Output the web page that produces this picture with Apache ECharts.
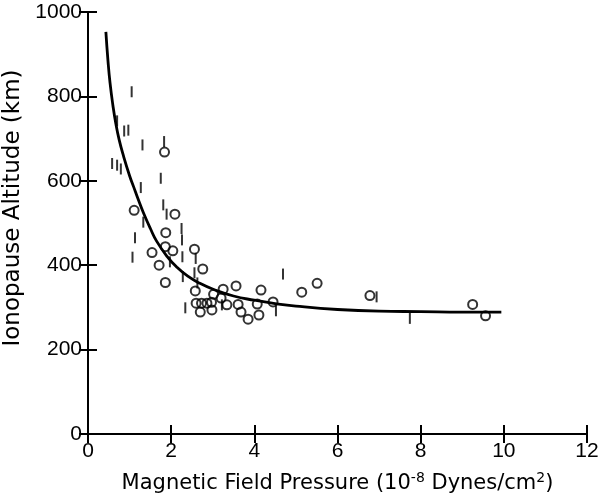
<!DOCTYPE html>
<html>
<head>
<meta charset="utf-8">
<script src="https://cdn.jsdelivr.net/npm/echarts@6/dist/echarts.min.js"></script>
<style>
html,body{margin:0;padding:0;background:#fff;}
#c{width:607px;height:499px;}
</style>
</head>
<body>
<div id="c"></div>
<script>
// Open-circle observations [pressure, altitude]
var circlePoints = [
  [1.84,668],[1.11,530],[2.09,521],[1.87,477],[1.54,430],[1.86,444],[2.04,434],
  [2.56,438],[1.71,400],[2.76,391],[1.86,359],[2.58,339],[3.02,331],[2.60,310],
  [2.73,310],[2.86,310],[2.97,312],[2.70,289],[2.98,294],[3.20,322],[3.25,343],
  [3.34,306],[3.56,351],[3.61,307],[3.68,289],[3.85,272],[4.07,308],[4.11,282],
  [4.16,341],[4.45,313],[5.14,336],[5.51,357],[6.78,328],[9.25,307],[9.56,280]
];
// Vertical-bar observations [pressure, altitude]
var barPoints = [
  [1.05,811],[0.70,742],[0.87,718],[0.97,720],[1.31,685],[1.83,693],[0.58,641],
  [0.70,637],[0.79,628],[1.75,606],[1.27,584],[1.81,543],[1.89,521],[1.33,502],
  [2.25,487],[2.26,460],[1.13,465],[2.27,420],[1.07,419],[2.59,416],[1.97,408],
  [2.28,373],[2.56,382],[2.63,358],[2.34,299],[3.22,306],[4.52,292],[4.69,379],
  [6.94,325],[7.74,274]
];
// Fitted curve
var curvePoints = [
  [0.43,953],[0.48,885],[0.53,832],[0.6,778],[0.67,735],[0.75,697],[0.85,660],
  [1.0,612],[1.1,585],[1.2,558],[1.33,525],[1.5,487],[1.65,457],[1.9,421],
  [2.13,396],[2.4,374],[2.69,357],[3.01,343],[3.5,327],[4.0,317],[4.5,309],
  [5.0,303],[6.0,295],[7.0,291],[8.0,290],[9.0,289],[9.94,289]
];
var xTicks = {min:0, max:12, interval:2};
var yTicks = {min:0, max:1000, interval:200};

var chart = echarts.init(document.getElementById('c'), null, {renderer:'canvas'});
var font = '"Liberation Sans", Arial, Helvetica, sans-serif';
var tfont = '"DejaVu Sans", "Liberation Sans", sans-serif';
var axLine = {show:true, lineStyle:{color:'#000', width:2}};
var axTick = {show:true, inside:true, length:9, lineStyle:{color:'#000', width:2}};
var plain = function(v){ return String(v); };
chart.setOption({
  animation:false,
  backgroundColor:'#fff',
  grid:{left:88, right:20, top:12, bottom:65, show:false, containLabel:false, outerBoundsMode:'none'},
  xAxis:[{
    type:'value', min:xTicks.min, max:xTicks.max, interval:xTicks.interval,
    position:'bottom',
    axisLine:axLine, axisTick:axTick, splitLine:{show:false},
    axisLabel:{color:'#000', fontSize:21, fontFamily:font, margin:7, formatter:plain},
    name:'{a|Magnetic Field Pressure (10}{s|-8}{a| Dynes/cm}{s|2}{a|)}',
    nameLocation:'middle', nameGap:36,
    nameTextStyle:{rich:{
      a:{fontSize:21, fontFamily:tfont, color:'#000', lineHeight:24, verticalAlign:'bottom'},
      s:{fontSize:14, fontFamily:tfont, color:'#000', lineHeight:24, verticalAlign:'bottom', padding:[0,0,9,0]}
    }}
  },{
    type:'value', min:xTicks.min, max:xTicks.max, interval:xTicks.interval,
    position:'top',
    axisLine:axLine, axisTick:axTick, splitLine:{show:false}, axisLabel:{show:false}
  }],
  yAxis:[{
    type:'value', min:yTicks.min, max:yTicks.max, interval:yTicks.interval,
    position:'left',
    axisLine:axLine, axisTick:axTick, splitLine:{show:false},
    axisLabel:{color:'#000', fontSize:21, fontFamily:font, margin:6, formatter:plain},
    name:'Ionopause Altitude (km)', nameLocation:'middle', nameGap:56,
    nameTextStyle:{color:'#000', fontSize:23, fontFamily:tfont, padding:[0,0,0,30]}
  },{
    type:'value', min:yTicks.min, max:yTicks.max, interval:yTicks.interval,
    position:'right',
    axisLine:axLine, axisTick:axTick, splitLine:{show:false}, axisLabel:{show:false}
  }],
  series:[{
    type:'line', data:curvePoints, smooth:true, showSymbol:false,
    lineStyle:{color:'#000', width:2.8}, z:2
  },{
    type:'scatter', data:barPoints, symbol:'rect', symbolSize:[2,11],
    itemStyle:{color:'#000'}, z:3
  },{
    type:'scatter', data:circlePoints, symbol:'circle', symbolSize:9,
    itemStyle:{color:'rgba(255,255,255,0)', borderColor:'#000', borderWidth:2}, z:4
  }]
});
</script>
</body>
</html>
